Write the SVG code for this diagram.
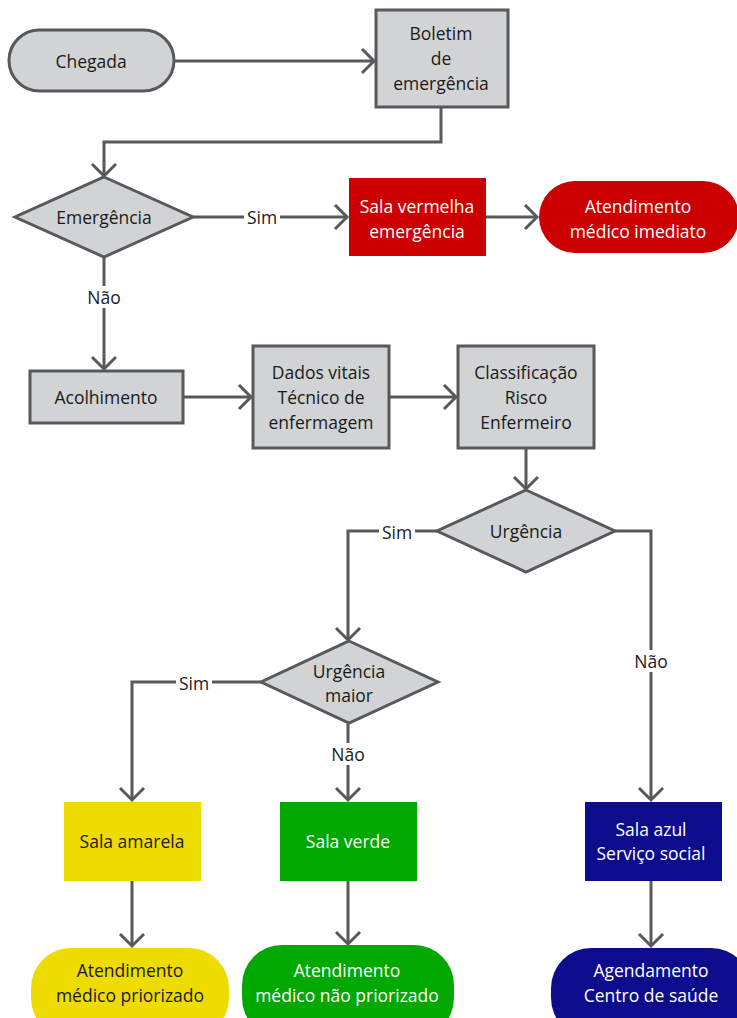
<svg xmlns="http://www.w3.org/2000/svg" width="737" height="1018" viewBox="0 0 737 1018">
<defs>
<style>
text{font-family:"Open Sans","Liberation Sans",sans-serif;font-size:17.5px;text-anchor:middle;dominant-baseline:central;fill:#1a1a1a}
.w{fill:#ffffff}
.g{fill:#d1d3d4;stroke:#58595b;stroke-width:3}
.c{fill:none;stroke:#58595b;stroke-width:3}
.lb{fill:#ffffff}
</style>
<marker id="ah" markerUnits="userSpaceOnUse" markerWidth="30" markerHeight="30" refX="14" refY="13" orient="auto" viewBox="0 0 30 30">
<path d="M2,1 L14,13 L2,25" fill="none" stroke="#58595b" stroke-width="3"/>
</marker>
</defs>
<rect width="737" height="1018" fill="#ffffff"/>
<g id="connectors">
<path class="c" d="M174,61 H374" marker-end="url(#ah)"/>
<path class="c" d="M441,107 V142 H104 V176" marker-end="url(#ah)"/>
<path class="c" d="M193,217 H347" marker-end="url(#ah)"/>
<path class="c" d="M486,217 H537" marker-end="url(#ah)"/>
<path class="c" d="M104,257 V369" marker-end="url(#ah)"/>
<path class="c" d="M183,397 H251" marker-end="url(#ah)"/>
<path class="c" d="M389,397 H456" marker-end="url(#ah)"/>
<path class="c" d="M526,448 V489" marker-end="url(#ah)"/>
<path class="c" d="M437,531 H348 V640" marker-end="url(#ah)"/>
<path class="c" d="M615,531 H651 V800" marker-end="url(#ah)"/>
<path class="c" d="M261,682 H132 V800" marker-end="url(#ah)"/>
<path class="c" d="M348,723 V800" marker-end="url(#ah)"/>
<path class="c" d="M132,881 V946" marker-end="url(#ah)"/>
<path class="c" d="M348,881 V944" marker-end="url(#ah)"/>
<path class="c" d="M651,881 V946" marker-end="url(#ah)"/>
<rect class="lb" x="244" y="207" width="36" height="20"/>
<text x="262" y="217">Sim</text>
<rect class="lb" x="85" y="286" width="38" height="22"/>
<text x="104" y="297">Não</text>
<rect class="lb" x="379" y="521" width="36" height="20"/>
<text x="397" y="532">Sim</text>
<rect class="lb" x="632" y="650" width="38" height="22"/>
<text x="651" y="661">Não</text>
<rect class="lb" x="176" y="672" width="36" height="20"/>
<text x="194" y="683">Sim</text>
<rect class="lb" x="329" y="743" width="38" height="22"/>
<text x="348" y="754">Não</text>
</g>
<g id="chegada">
<rect class="g" x="9" y="30" width="165" height="61" rx="30.5"/>
<text x="91" y="61">Chegada</text>
</g>
<g id="boletim">
<rect class="g" x="376" y="10" width="132" height="97"/>
<text x="441" y="33">Boletim</text>
<text x="441" y="58">de</text>
<text x="441" y="83">emergência</text>
</g>
<g id="emergencia">
<polygon class="g" points="104,177 193,217 104,257 15,217"/>
<text x="104" y="217">Emergência</text>
</g>
<g id="sala-vermelha">
<rect x="349" y="178" width="137" height="78" fill="#cc0000"/>
<text class="w" x="417" y="206">Sala vermelha</text>
<text class="w" x="417" y="231">emergência</text>
</g>
<g id="atend-imediato">
<rect x="539" y="181" width="200" height="72" rx="36" fill="#cc0000"/>
<text class="w" x="638" y="206">Atendimento</text>
<text class="w" x="638" y="231">médico imediato</text>
</g>
<g id="acolhimento">
<rect class="g" x="30" y="371" width="153" height="52"/>
<text x="106" y="397">Acolhimento</text>
</g>
<g id="dados-vitais">
<rect class="g" x="253" y="346" width="136" height="102"/>
<text x="321" y="372">Dados vitais</text>
<text x="321" y="397">Técnico de</text>
<text x="321" y="422">enfermagem</text>
</g>
<g id="classificacao">
<rect class="g" x="458" y="346" width="136" height="102"/>
<text x="526" y="372">Classificação</text>
<text x="526" y="397">Risco</text>
<text x="526" y="422">Enfermeiro</text>
</g>
<g id="urgencia">
<polygon class="g" points="526,490 615,531 526,572 437,531"/>
<text x="526" y="531">Urgência</text>
</g>
<g id="urgencia-maior">
<polygon class="g" points="349,641 438,682 349,723 261,682"/>
<text x="349" y="671">Urgência</text>
<text x="349" y="695">maior</text>
</g>
<g id="sala-amarela">
<rect x="64" y="802" width="137" height="79" fill="#eedc00"/>
<text x="132" y="841">Sala amarela</text>
</g>
<g id="sala-verde">
<rect x="280" y="802" width="137" height="79" fill="#00a800"/>
<text class="w" x="348" y="841">Sala verde</text>
</g>
<g id="sala-azul">
<rect x="585" y="802" width="137" height="79" fill="#0c0c8c"/>
<text class="w" x="651" y="829">Sala azul</text>
<text class="w" x="651" y="853">Serviço social</text>
</g>
<g id="atend-priorizado">
<rect x="31" y="948" width="198" height="90" rx="40" fill="#eedc00"/>
<text x="130" y="970">Atendimento</text>
<text x="130" y="995">médico priorizado</text>
</g>
<g id="atend-nao-priorizado">
<rect x="242" y="945" width="212" height="93" rx="40" fill="#00a800"/>
<text class="w" x="347" y="970">Atendimento</text>
<text class="w" x="347" y="995">médico não priorizado</text>
</g>
<g id="agendamento">
<rect x="551" y="948" width="200" height="90" rx="40" fill="#0c0c8c"/>
<text class="w" x="651" y="970">Agendamento</text>
<text class="w" x="651" y="995">Centro de saúde</text>
</g>
</svg>
